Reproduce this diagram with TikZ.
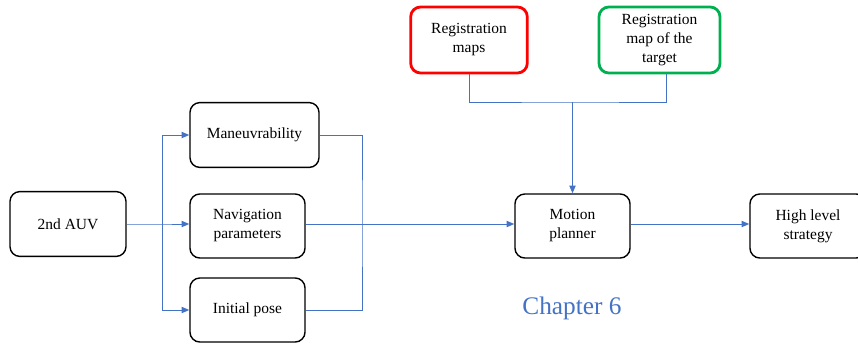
\documentclass[tikz,border=0pt]{standalone}
\usepackage{fontspec}
\setmainfont{Liberation Serif}
\usetikzlibrary{positioning,arrows.meta}
\definecolor{linkblue}{RGB}{68,114,196}
\definecolor{regred}{RGB}{255,0,0}
\definecolor{reggreen}{RGB}{0,176,80}
\tikzset{
  block/.style={draw, line width=1pt, rounded corners=7pt, align=center,
    inner sep=1pt, font=\fontsize{11}{13.5}\selectfont},
  link/.style={draw=linkblue, line width=0.7pt},
  flow/.style={link, -{Triangle[length=5.5pt,width=4.5pt]}}
}
\begin{document}
\begin{tikzpicture}[x=0.025cm, y=-0.025cm]
      \useasboundingbox (0,0) rectangle (858,344);
      \node[block, minimum width=2.9cm, minimum height=1.62cm] (A) at (68,224) {2nd AUV};
      \node[block, minimum width=3.225cm, minimum height=1.62cm] (M) at (254.5,135) {Maneuvrability};
      \node[block, minimum width=2.875cm, minimum height=1.6cm] (N) at (247.5,226) {Navigation\\parameters};
      \node[block, minimum width=2.875cm, minimum height=1.6cm] (P) at (247.5,310) {Initial pose};
      \node[block, minimum width=2.875cm, minimum height=1.6cm] (MP) at (572.5,226) {Motion\\planner};
      \node[block, minimum width=2.9cm, minimum height=1.6cm] (H) at (808,226) {High level\\strategy};
      \node[block, draw=regred, line width=2pt, minimum width=2.915cm, minimum height=1.65cm] (RM) at (469,40) {Registration\\maps};
      \node[block, draw=reggreen, line width=2pt, minimum width=3.025cm, minimum height=1.65cm] (RT) at (659.5,40) {Registration\\map of the\\target};
      \node[text=linkblue, font=\fontsize{18}{20}\selectfont] (C6) at (572,308) {Chapter 6};
      \coordinate (split) at (162,224);
      \coordinate (join) at (362,224);
      \coordinate (bus) at (572.5,102);
      \draw[flow] (A) -- (split) -- (N.west |- split);
      \draw[flow] (split) |- (M);
      \draw[flow] (split) |- (P);
      \draw[link] (M.east) -| (join) |- (P.east);
      \draw[flow] (N.east |- split) -- (MP.west |- split);
      \draw[flow] (MP.east |- split) -- (H.west |- split);
      \draw[link] (RM.south) |- (bus) -| ([xshift=5pt]RT.south);
      \draw[flow] (bus) -- (MP);
    \end{tikzpicture}
\end{document}
